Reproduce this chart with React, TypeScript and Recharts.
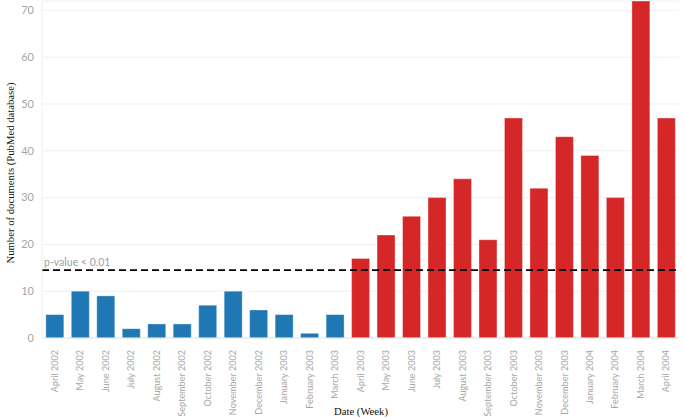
import React from "react";
import { BarChart, Bar, XAxis, YAxis, CartesianGrid, ReferenceLine, Cell } from "recharts";

const months = [
  "April 2002", "May 2002", "June 2002", "July 2002", "August 2002", "September 2002",
  "October 2002", "November 2002", "December 2002", "January 2003", "February 2003", "March 2003",
  "April 2003", "May 2003", "June 2003", "July 2003", "August 2003", "September 2003",
  "October 2003", "November 2003", "December 2003", "January 2004", "February 2004", "March 2004",
  "April 2004",
];
const documents = [5, 10, 9, 2, 3, 3, 7, 10, 6, 5, 1, 5, 17, 22, 26, 30, 34, 21, 47, 32, 43, 39, 30, 72, 47];
const phase = [
  "before", "before", "before", "before", "before", "before", "before", "before", "before", "before", "before", "before",
  "after", "after", "after", "after", "after", "after", "after", "after", "after", "after", "after", "after", "after",
];
const yTicks = [0, 10, 20, 30, 40, 50, 60, 70];
const threshold = 14.5;
const thresholdLabel = "p-value < 0.01";

const data = months.map((m, i) => ({ month: m, value: documents[i], phase: phase[i] }));
const phaseColor: Record<string, string> = { before: "#1f77b4", after: "#d62728" };

const FONT = "Lato, 'Open Sans', sans-serif";

const XTick = (props: any) => {
  const { x, y, payload } = props;
  return (
    <g transform={`translate(${x},${y + 4})`}>
      <text transform="rotate(-90)" textAnchor="end" dy="0.35em" fill="#a6a6a6" fontSize={9.1} fontFamily={FONT}>
        {payload.value}
      </text>
    </g>
  );
};

const ThresholdLabel = (props: any) => {
  const { viewBox } = props;
  if (!viewBox) return null;
  return (
    <text x={viewBox.x + 2} y={viewBox.y - 4} fill="#a0a0a0" fontSize={10.5} fontFamily={FONT}>
      {thresholdLabel}
    </text>
  );
};

export default function App() {
  return (
    <div style={{ position: "fixed", left: 0, top: 0, width: 685, height: 418, background: "#fff" }}>
      <BarChart
        width={685}
        height={418}
        data={data}
        margin={{ top: 1, right: 6, bottom: 5, left: 0 }}
        barCategoryGap="15%"
      >
        <CartesianGrid vertical={false} stroke="#f0f0f0" />
        <XAxis
          dataKey="month"
          interval={0}
          height={75}
          tick={<XTick />}
          tickLine={false}
          axisLine={{ stroke: "#e6e6e6" }}
        />
        <YAxis
          width={42}
          domain={[0, 72]}
          ticks={yTicks}
          allowDataOverflow
          tickLine={false}
          axisLine={{ stroke: "#f0f0f0" }}
          tick={{ fill: "#a6a6a6", fontSize: 11, fontFamily: FONT }}
        />
        <Bar dataKey="value" isAnimationActive={false} stroke="#ffffff" strokeOpacity={0.35}>
          {data.map((d, i) => (
            <Cell key={i} fill={phaseColor[d.phase]} />
          ))}
        </Bar>
        <ReferenceLine
          y={threshold}
          stroke="#000"
          strokeWidth={1.6}
          strokeDasharray="7 4"
          label={<ThresholdLabel />}
        />
      </BarChart>
      <div
        style={{
          position: "absolute",
          left: 10,
          top: 173,
          transform: "translate(-50%, -50%) rotate(-90deg)",
          whiteSpace: "nowrap",
          fontFamily: "'Liberation Serif', 'DejaVu Serif', serif",
          fontSize: 10.7,
          color: "#111",
        }}
      >
        Number of documents (PubMed database)
      </div>
      <div
        style={{
          position: "absolute",
          left: 361,
          top: 411,
          transform: "translate(-50%, -50%)",
          whiteSpace: "nowrap",
          fontFamily: "'Liberation Serif', 'DejaVu Serif', serif",
          fontSize: 10.7,
          color: "#111",
        }}
      >
        Date (Week)
      </div>
    </div>
  );
}
